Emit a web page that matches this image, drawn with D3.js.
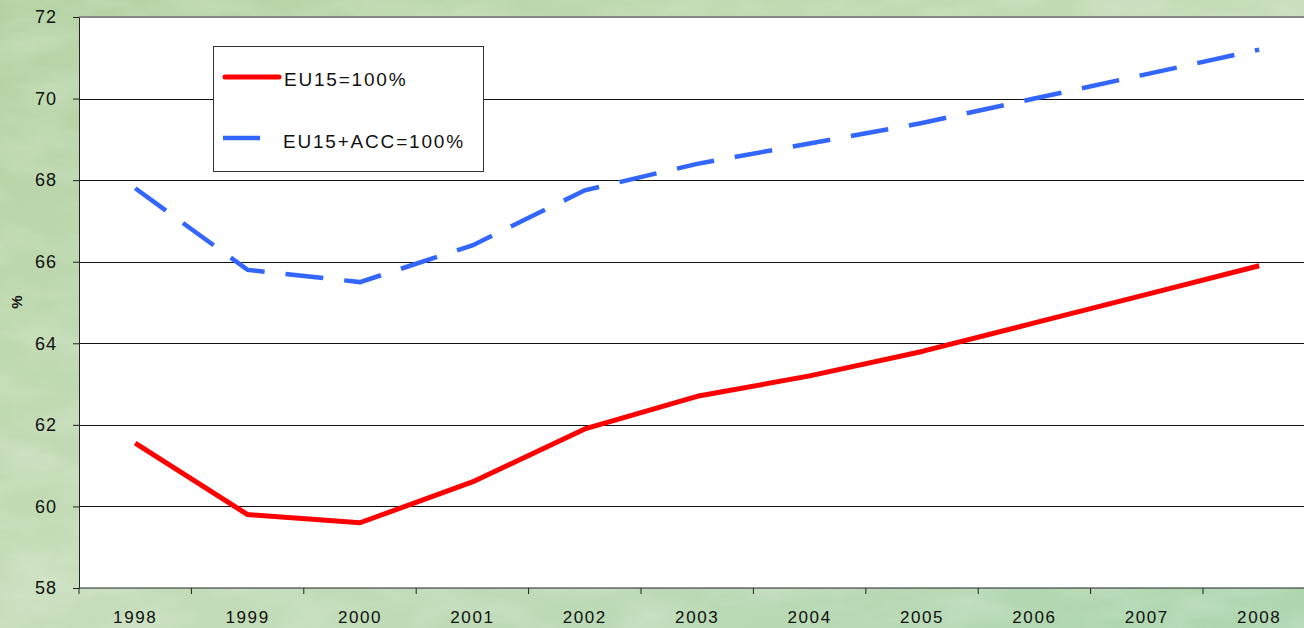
<!DOCTYPE html>
<html>
<head>
<meta charset="utf-8">
<script src="https://cdn.jsdelivr.net/npm/d3@7"></script>
<style>
  html, body { margin: 0; padding: 0; background: #b9d6ab; }
  svg { display: block; font-family: "Liberation Sans", Arial, sans-serif; }
</style>
</head>
<body>
<div id="chart"></div>
<script>
// Share of EU15 average, two bases.
const years = ['1998', '1999', '2000', '2001', '2002', '2003', '2004', '2005', '2006', '2007', '2008'];
const eu15 = [61.55, 59.8, 59.6, 60.6, 61.9, 62.7, 63.2, 63.8, 64.5, 65.2, 65.9];
const eu15acc = [67.8, 65.8, 65.5, 66.4, 67.75, 68.4, 68.9, 69.4, 70.0, 70.6, 71.2];
const yTicks = [58, 60, 62, 64, 66, 68, 70, 72];
const seriesNames = ['EU15=100%', 'EU15+ACC=100%'];

const W = 1304, H = 628;
const plotLeft = 79, plotTop = 17, plotBottom = 588;
const plotRight = plotLeft + 11 * 112.4;   // plot runs off the right edge
const FONT = '"Liberation Sans", Arial, sans-serif';

const svg = d3.select('#chart').append('svg')
  .attr('width', W).attr('height', H);

// Green marble-ish backdrop.
const defs = svg.append('defs');
const grad = defs.append('linearGradient').attr('id', 'bg')
  .attr('x1', 0).attr('y1', 0).attr('x2', 1).attr('y2', 1);
grad.append('stop').attr('offset', 0).attr('stop-color', '#b3d2a2');
grad.append('stop').attr('offset', 0.5).attr('stop-color', '#c6ddb9');
grad.append('stop').attr('offset', 1).attr('stop-color', '#acd5ae');
const filt = defs.append('filter').attr('id', 'marble');
filt.append('feTurbulence').attr('type', 'fractalNoise')
  .attr('baseFrequency', '0.012 0.03').attr('numOctaves', 4).attr('seed', 3);
filt.append('feColorMatrix').attr('type', 'matrix')
  .attr('values', '0 0 0 0 1  0 0 0 0 1  0 0 0 0 1  0 0 0 0.9 -0.35');

svg.append('rect').attr('width', W).attr('height', H).attr('fill', 'url(#bg)');
svg.append('rect').attr('width', W).attr('height', H)
  .attr('filter', 'url(#marble)').attr('opacity', 0.45);

const x = d3.scaleBand().domain(years).range([plotLeft, plotRight]);
const y = d3.scaleLinear().domain([58, 72]).range([plotBottom, plotTop]);

// Plot area
svg.append('rect')
  .attr('x', plotLeft).attr('y', plotTop)
  .attr('width', plotRight - plotLeft).attr('height', plotBottom - plotTop)
  .attr('fill', '#fff');
svg.append('line')
  .attr('x1', plotLeft).attr('x2', plotRight)
  .attr('y1', plotTop).attr('y2', plotTop)
  .attr('stroke', '#888').attr('stroke-width', 2);

// Gridlines
svg.append('g')
  .selectAll('line')
  .data(yTicks.filter(d => d > 58 && d < 72))
  .enter().append('line')
    .attr('x1', plotLeft).attr('x2', plotRight)
    .attr('y1', d => Math.round(y(d)) + 0.5).attr('y2', d => Math.round(y(d)) + 0.5)
    .attr('stroke', '#111').attr('stroke-width', 1);

// Axes
const yAxis = svg.append('g')
  .attr('transform', `translate(${plotLeft},0)`)
  .call(d3.axisLeft(y).tickValues(yTicks).tickSize(6).tickPadding(16).tickSizeOuter(0));
yAxis.select('.domain').attr('stroke', '#222');
yAxis.selectAll('.tick line').attr('stroke', '#222');
yAxis.selectAll('text').attr('font-size', 18).attr('fill', '#111')
  .attr('letter-spacing', 1).attr('font-family', FONT);

const xAxis = svg.append('g')
  .attr('transform', `translate(0,${plotBottom})`)
  .call(d3.axisBottom(x).tickSize(0).tickPadding(23));
xAxis.select('.domain').remove();
xAxis.selectAll('text').attr('font-size', 17).attr('fill', '#111')
  .attr('letter-spacing', 1.6).attr('font-family', FONT);
svg.append('line')
  .attr('x1', plotLeft).attr('x2', plotRight).attr('y1', plotBottom).attr('y2', plotBottom)
  .attr('stroke', '#222');
// category boundary ticks
svg.append('g').selectAll('line')
  .data(years)
  .enter().append('line')
    .attr('x1', d => x(d)).attr('x2', d => x(d))
    .attr('y1', plotBottom).attr('y2', plotBottom + 6)
    .attr('stroke', '#222');

svg.append('text')
  .attr('transform', 'translate(22,302) rotate(-90)')
  .attr('text-anchor', 'middle')
  .attr('font-size', 15).attr('font-weight', 'bold').attr('fill', '#111')
  .text('%');

// Lines
const line = d3.line()
  .x((d, i) => x(years[i]) + x.bandwidth() / 2)
  .y(d => y(d));

svg.append('path').datum(eu15acc)
  .attr('d', line)
  .attr('fill', 'none').attr('stroke', '#3366ff')
  .attr('stroke-width', 4.5).attr('stroke-dasharray', '38 21');

svg.append('path').datum(eu15)
  .attr('d', line)
  .attr('fill', 'none').attr('stroke', '#ff0000')
  .attr('stroke-width', 5).attr('stroke-linejoin', 'round');

// Legend
const lg = svg.append('g');
lg.append('rect')
  .attr('x', 213.5).attr('y', 46.5).attr('width', 270).attr('height', 125)
  .attr('fill', '#fff').attr('stroke', '#333');
lg.append('line')
  .attr('x1', 225).attr('x2', 279).attr('y1', 77).attr('y2', 77)
  .attr('stroke', '#ff0000').attr('stroke-width', 5).attr('stroke-linecap', 'round');
lg.append('line')
  .attr('x1', 223).attr('x2', 260).attr('y1', 138).attr('y2', 138)
  .attr('stroke', '#3366ff').attr('stroke-width', 4.5);
lg.append('text').attr('x', 284).attr('y', 86)
  .attr('font-size', 19).attr('letter-spacing', 1.8).attr('fill', '#111').text(seriesNames[0]);
lg.append('text').attr('x', 283).attr('y', 148)
  .attr('font-size', 19).attr('letter-spacing', 1.8).attr('fill', '#111').text(seriesNames[1]);
</script>
</body>
</html>
